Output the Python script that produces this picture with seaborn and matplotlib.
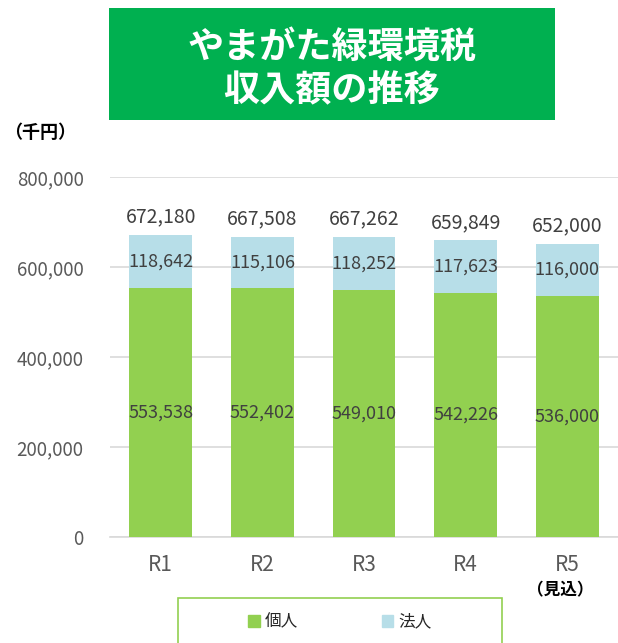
import seaborn as sns
import numpy as np
import pandas as pd
import matplotlib.pyplot as plt
from matplotlib.patches import Patch, Rectangle

sns.set_style("white")
plt.rcParams['font.family'] = ['Noto Sans CJK JP', 'DejaVu Sans']

# data
years = ["R1", "R2", "R3", "R4", "R5"]
kojin = [553538, 552402, 549010, 542226, 536000]   # 個人
hojin = [118642, 115106, 118252, 117623, 116000]   # 法人
yticks = [0, 200000, 400000, 600000, 800000]

df = pd.DataFrame({"year": years, "kojin": kojin, "hojin": hojin})
df["total"] = df["kojin"] + df["hojin"]

green = "#92D050"
blue = "#B7DEE8"
gray = "#595959"
dark = "#404040"

fig = plt.figure(figsize=(6.18, 6.43), dpi=100)
ax = fig.add_axes([110 / 618, 106 / 643, 508 / 618, 360 / 643])

# stacked: total bar in blue, individual bar in green on top
sns.barplot(data=df, x="year", y="total", color=blue, width=0.62,
            saturation=1, ax=ax, zorder=2, linewidth=0)
sns.barplot(data=df, x="year", y="kojin", color=green, width=0.62,
            saturation=1, ax=ax, zorder=3, linewidth=0)

ax.set_ylim(0, 800000)
ax.set_xlim(-0.5, 4.5)
ax.set_yticks(yticks)
ax.set_yticklabels([f"{v:,}" for v in yticks], fontsize=13.5, color=gray)
ax.set_xticks(range(len(years)))
ax.set_xticklabels(years, fontsize=15, color=gray)
ax.tick_params(axis="both", length=0)
ax.tick_params(axis="y", pad=19)
ax.tick_params(axis="x", pad=12)
ax.set_xlabel("")
ax.set_ylabel("")
ax.grid(axis="y", color="#D9D9D9", linewidth=1.2, zorder=0)
ax.set_axisbelow(True)
for s in ["top", "right", "left"]:
    ax.spines[s].set_visible(False)
ax.spines["bottom"].set_color("#D9D9D9")
ax.spines["bottom"].set_linewidth(1.2)

# labels
for i, row in df.iterrows():
    ax.text(i, row["kojin"] / 2, f"{row['kojin']:,}", ha="center", va="center",
            fontsize=13, color=dark, zorder=5)
    ax.text(i, row["kojin"] + row["hojin"] / 2, f"{row['hojin']:,}", ha="center",
            va="center", fontsize=13, color=dark, zorder=5)
    ax.annotate(f"{row['total']:,}", (i, row["total"]), xytext=(0, 5),
                textcoords="offset points", ha="center", va="bottom",
                fontsize=14, color=dark)

# R5 note
fig.text(560 / 618, 1 - 590 / 643, "（見込）", ha="center", va="center",
         fontsize=12, fontweight="bold", color="black")

# unit
fig.text(4 / 618, 1 - 132 / 643, "（千円）", ha="left", va="center",
         fontsize=13, fontweight="bold", color="black")

# title box
fig.patches.append(Rectangle((109 / 618, 1 - 120 / 643), 446 / 618, 112 / 643,
                             transform=fig.transFigure, facecolor="#00B050",
                             edgecolor="none"))
fig.text(332 / 618, 1 - 69 / 643, "やまがた緑環境税\n収入額の推移", ha="center",
         va="center", fontsize=26, fontweight="bold", color="white",
         linespacing=1.2)

# legend box
fig.patches.append(Rectangle((178 / 618, -0.05), 324 / 618, 0.05 + 45 / 643,
                             transform=fig.transFigure, facecolor="white",
                             edgecolor=green, linewidth=1.2))
handles = [Patch(color=green, label="個人"), Patch(color=blue, label="法人")]
fig.legend(handles=handles, loc="center", bbox_to_anchor=(340 / 618, 1 - 622 / 643),
           ncol=2, frameon=False, fontsize=12, handlelength=0.7, handleheight=0.7,
           handletextpad=0.3, columnspacing=5)

plt.savefig("out.png", dpi=100)
